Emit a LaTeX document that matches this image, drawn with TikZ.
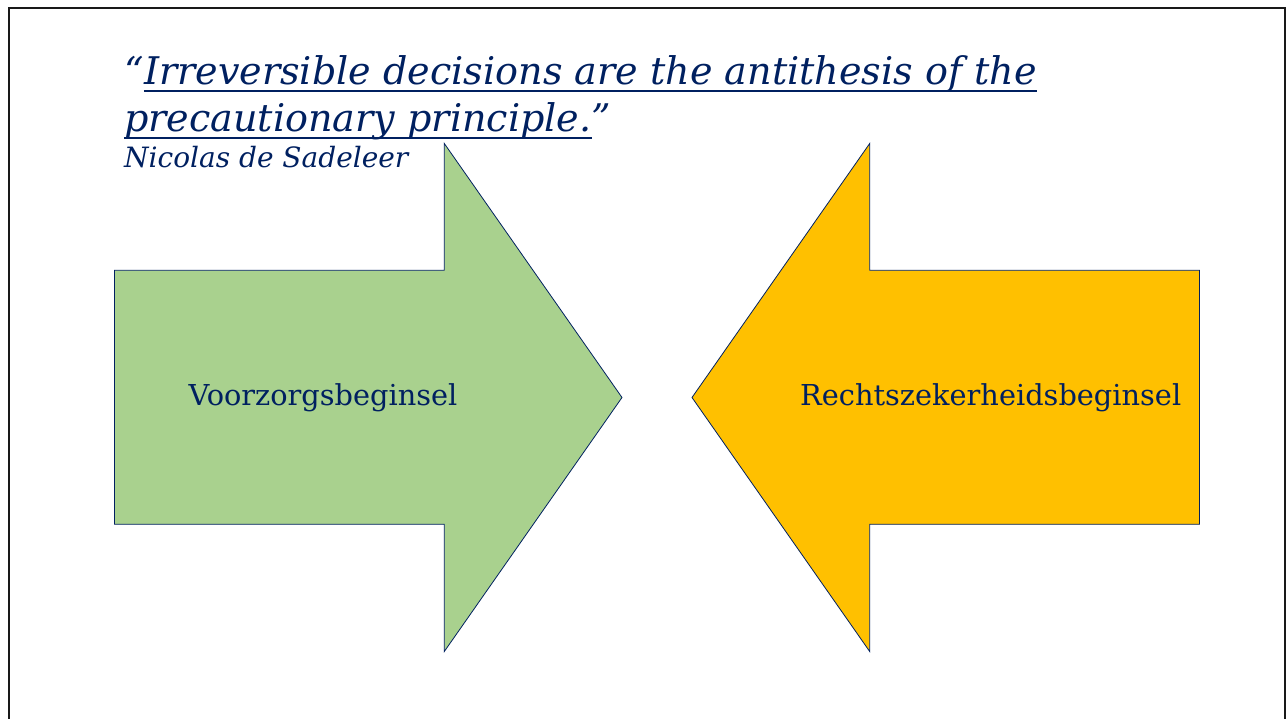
\documentclass[tikz,border=0pt]{standalone}
\usepackage{fontspec}
\setmainfont{DejaVu Serif}
\usepackage{xcolor}
\usetikzlibrary{positioning}
\definecolor{navy}{RGB}{0,32,96}
\definecolor{leaf}{RGB}{169,209,142}
\definecolor{amber}{RGB}{255,192,0}

\begin{document}
\begin{tikzpicture}[x=1pt, y=-1pt,
        quote/.style = {inner sep=0pt, text=navy, font=\fontsize{38.1}{42}\selectfont\itshape},
        author/.style = {inner sep=0pt, text=navy, font=\fontsize{28}{32}\selectfont\itshape},
        arrowtext/.style = {inner sep=0pt, text=navy, font=\fontsize{28.8}{32}\selectfont},
        uline/.style = {navy, line width=1.8pt},
        arrowshape/.style = {draw=navy, line width=0.8pt, line join=miter}]
        \useasboundingbox (0,0) rectangle (1286,719);
        \draw[black!90, line width=2.2pt] (9,725) -- (9,8) -- (1285,8) -- (1285,725);
        % arrows
        \draw[arrowshape, fill=leaf] (114.5,270.3) -- (444.3,270.3) -- (444.3,143.5) -- (622,397.5) -- (444.3,651.5) -- (444.3,524.3) -- (114.5,524.3) -- cycle;
        \draw[arrowshape, fill=amber] (1199.5,270.3) -- (869.7,270.3) -- (869.7,143.5) -- (692,397.5) -- (869.7,651.5) -- (869.7,524.3) -- (1199.5,524.3) -- cycle;
        \node[arrowtext, anchor=base] (voorzorg) at (323,406) {Voorzorgsbeginsel};
        \node[arrowtext, anchor=base] (rechts) at (990.7,406) {Rechtszekerheidsbeginsel};
        % quote
        \node[quote, anchor=base west] (open) at (124,85) {“};
        \node[quote, anchor=base west] (line1) at (open.base east) {Irreversible decisions are the antithesis of the};
        \node[quote, anchor=base west] (line2) at (124,132) {precautionary principle.};
        \node[quote, anchor=base west] (close) at (line2.base east) {”};
        \draw[uline] ([yshift=-5.8pt]line1.base west) -- ([yshift=-5.8pt]line1.base east);
        \draw[uline] ([yshift=-5.8pt]line2.base west) -- ([yshift=-5.8pt]line2.base east);
        \node[author, anchor=base west] (name) at (124,168) {Nicolas de Sadeleer};
\end{tikzpicture}
\end{document}
